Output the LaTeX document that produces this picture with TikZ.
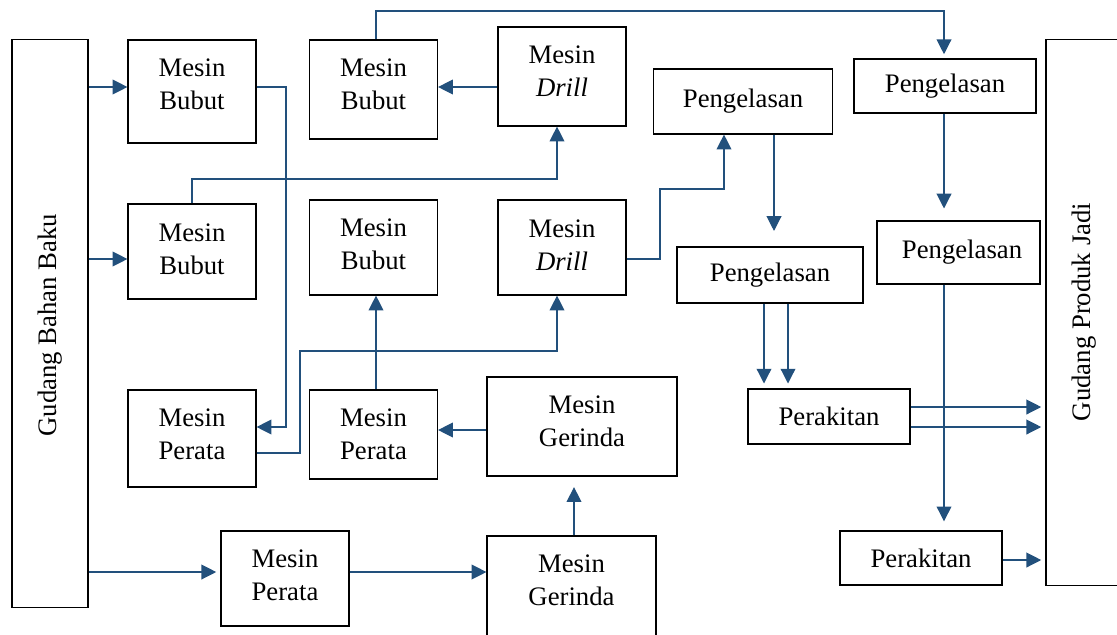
\documentclass[tikz,border=0pt]{standalone}
\usepackage{fontspec}
\setmainfont{Liberation Serif}
\usetikzlibrary{arrows.meta}
\definecolor{flow}{RGB}{34,80,124}
\begin{document}
\begin{tikzpicture}[x=0.025cm,y=-0.025cm,
  box/.style={draw=black,line width=0.8pt,inner sep=0pt,fill=none,
    font=\fontsize{19}{23.5}\selectfont,align=center},
  txt/.style={inner sep=0pt,font=\fontsize{19}{23.5}\selectfont,align=center},
  conn/.style={draw=flow,line width=0.85pt,
    -{Triangle[width=10.5pt,length=10.5pt]}}]
\useasboundingbox (0,0) rectangle (1117,634);

% warehouses
\node[box,minimum width=1.9cm,minimum height=14.175cm] (gbb) at (50,323.5) {};
\node[txt,rotate=90] (gbb-t) at (50,325) {Gudang Bahan Baku};
\node[box,minimum width=2.1cm,minimum height=13.625cm] (gpj) at (1088,312.5) {};
\node[txt,rotate=90] (gpj-t) at (1084,312) {Gudang Produk Jadi};

% machines
\node[box,minimum width=3.2cm,minimum height=2.575cm] (bubutA) at (192,91.5) {};
\node[txt] (bubutA-t) at (192,84) {Mesin\\Bubut};
\node[box,minimum width=3.2cm,minimum height=2.475cm] (bubutB) at (373.5,89.5) {};
\node[txt] (bubutB-t) at (373.5,84) {Mesin\\Bubut};
\node[box,minimum width=3.2cm,minimum height=2.475cm] (drillA) at (562,76.5) {};
\node[txt] (drillA-t) at (562,71) {Mesin\\\textit{Drill}};
\node[box,minimum width=3.2cm,minimum height=2.375cm] (bubutC) at (192,251.5) {};
\node[txt] (bubutC-t) at (192,249) {Mesin\\Bubut};
\node[box,minimum width=3.2cm,minimum height=2.375cm] (bubutD) at (373.5,247.5) {};
\node[txt] (bubutD-t) at (373.5,244) {Mesin\\Bubut};
\node[box,minimum width=3.2cm,minimum height=2.375cm] (drillB) at (562,247.5) {};
\node[txt] (drillB-t) at (562,245) {Mesin\\\textit{Drill}};
\node[box,minimum width=3.2cm,minimum height=2.425cm] (perataA) at (192,438.5) {};
\node[txt] (perataA-t) at (192,434) {Mesin\\Perata};
\node[box,minimum width=3.2cm,minimum height=2.225cm] (perataB) at (373.5,434.5) {};
\node[txt] (perataB-t) at (373.5,434) {Mesin\\Perata};
\node[box,minimum width=4.75cm,minimum height=2.475cm] (gerindaA) at (582,426.5) {};
\node[txt] (gerindaA-t) at (582,421) {Mesin\\Gerinda};
\node[box,minimum width=3.2cm,minimum height=2.375cm] (perataC) at (285,578.5) {};
\node[txt] (perataC-t) at (285,575) {Mesin\\Perata};
\node[box,minimum width=4.225cm,minimum height=2.85cm] (gerindaB) at (571.5,593) {};
\node[txt] (gerindaB-t) at (571.5,580) {Mesin\\Gerinda};

% welding and assembly
\node[box,minimum width=4.475cm,minimum height=1.625cm] (pengA) at (743,101.5) {Pengelasan};
\node[box,minimum width=4.55cm,minimum height=1.35cm] (pengB) at (945,86) {Pengelasan};
\node[box,minimum width=4.65cm,minimum height=1.4cm] (pengC) at (770,275) {Pengelasan};
\node[box,minimum width=4.075cm,minimum height=1.575cm] (pengD) at (958.5,252.5) {\hspace*{5pt}Pengelasan};
\node[box,minimum width=4.05cm,minimum height=1.375cm] (perakA) at (829,416.5) {Perakitan};
\node[box,minimum width=4.05cm,minimum height=1.35cm] (perakB) at (921,558) {Perakitan};

% routing levels and columns
\coordinate (r11) at (0,11);
\coordinate (r87) at (0,87);
\coordinate (r179) at (0,179);
\coordinate (r189) at (0,189);
\coordinate (r259) at (0,259);
\coordinate (r351) at (0,351);
\coordinate (r407) at (0,407);
\coordinate (r427) at (0,427);
\coordinate (r430) at (0,430);
\coordinate (r453) at (0,453);
\coordinate (r560) at (0,560);
\coordinate (r572) at (0,572);
\coordinate (c286) at (286,0);
\coordinate (c300) at (300,0);
\coordinate (c376) at (376,0);
\coordinate (c557) at (557,0);
\coordinate (c574) at (574,0);
\coordinate (c660) at (660,0);
\coordinate (c724) at (724,0);
\coordinate (c764) at (764,0);
\coordinate (c774) at (774,0);
\coordinate (c788) at (788,0);
\coordinate (c944) at (944,0);

% raw material flows
\draw[conn] (gbb.east |- r87) -- (bubutA.west |- r87);
\draw[conn] (gbb.east |- r259) -- (bubutC.west |- r259);
\draw[conn,shorten >=3pt] (gbb.east |- r572) -- (perataC.west |- r572);

\draw[conn] (bubutA.east |- r87) -| (c286 |- r427) -- (perataA.east |- r427);
\draw[conn] (drillA.west |- r87) -- (bubutB.east |- r87);
\draw[conn] (bubutB.north -| c376) -- (c376 |- r11) -| (c944 |- r11)
  -- ([yshift=3pt]pengB.north -| c944);
\draw[conn] (bubutC.north) |- (c557 |- r179) -- (drillA.south -| c557);
\draw[conn] (perataA.east |- r453) -| (c300 |- r351) -| (drillB.south -| c557);
\draw[conn] (perataB.north -| c376) -- (bubutD.south -| c376);
\draw[conn] (gerindaA.west |- r430) -- (perataB.east |- r430);
\draw[conn] (perataC.east |- r572) -- (gerindaB.west |- r572);
\draw[conn,shorten >=7.5pt] (gerindaB.north -| c574) -- (gerindaA.south -| c574);
\draw[conn] (drillB.east |- r259) -| (c660 |- r189) -| (pengA.south -| c724);

% welding to assembly
\draw[conn,shorten >=11pt] (pengA.south -| c774) -- (pengC.north -| c774);
\draw[conn,shorten >=8.5pt] (pengB.south -| c944) -- (pengD.north -| c944);
\draw[conn,shorten >=3.5pt] (pengC.south -| c764) -- (perakA.north -| c764);
\draw[conn,shorten >=3.5pt] (pengC.south -| c788) -- (perakA.north -| c788);
\draw[conn,shorten >=6.5pt] (pengD.south -| c944) -- (perakB.north -| c944);

% finished goods
\draw[conn,shorten >=3pt] (perakA.east |- r407) -- (gpj.west |- r407);
\draw[conn,shorten >=3pt] (perakA.east |- r427) -- (gpj.west |- r427);
\draw[conn,shorten >=3pt] (perakB.east |- r560) -- (gpj.west |- r560);
\end{tikzpicture}
\end{document}
